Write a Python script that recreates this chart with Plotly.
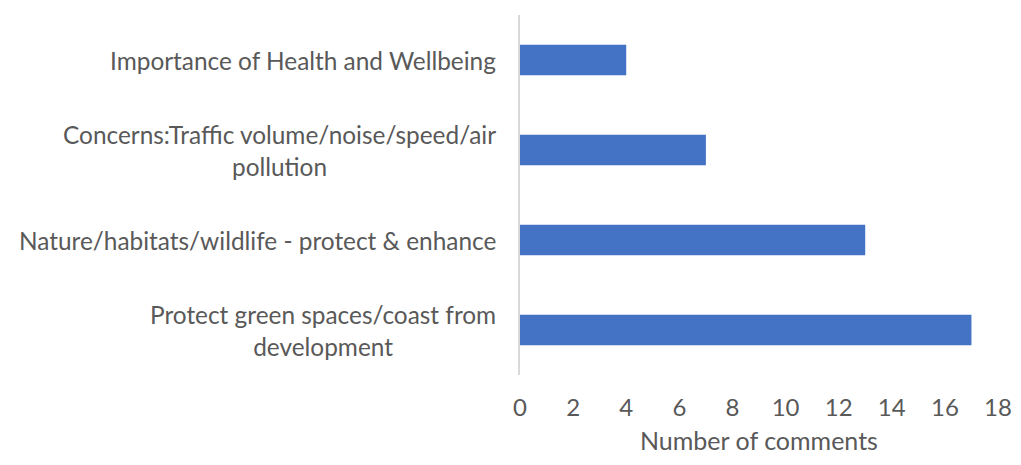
import plotly.graph_objects as go

# Categories listed bottom-to-top, as plotly draws a categorical y axis
categories = [
    "Protect green spaces/coast from<br>development",
    "Nature/habitats/wildlife - protect & enhance",
    "Concerns:Traffic volume/noise/speed/air<br>pollution",
    "Importance of Health and Wellbeing",
]
comments = [17, 13, 7, 4]
x_ticks = [0, 2, 4, 6, 8, 10, 12, 14, 16, 18]
x_title = "Number of comments"

FONT = "Lato, Open Sans, sans-serif"
TEXT_COLOR = "#595959"

fig = go.Figure()
fig.add_trace(go.Bar(
    y=categories,
    x=comments,
    orientation="h",
    width=0.34,
    marker=dict(color="#4472C4", line=dict(width=0)),
    hovertemplate="%{y}: %{x}<extra></extra>",
))

# Category labels as centred multi-line annotations (Excel-style)
for cat in categories:
    fig.add_annotation(
        x=-0.047, xref="paper", xanchor="right",
        y=cat, yref="y",
        text=cat, align="center", showarrow=False,
        font=dict(size=24.4, family=FONT, color=TEXT_COLOR),
    )

# Axis title as an annotation, sitting on the bottom edge of the figure
fig.add_annotation(
    x=0.5, xref="paper", xanchor="center",
    y=-0.224, yref="paper", yanchor="bottom",
    text=x_title, showarrow=False, borderpad=0,
    font=dict(size=25, family=FONT, color=TEXT_COLOR),
)

# page body has an 8px margin, so the figure must fit inside 1005x449
fig.update_layout(
    width=1005,
    height=449,
    margin=dict(l=512, r=15, t=7, b=82),
    plot_bgcolor="white",
    paper_bgcolor="white",
    font=dict(family=FONT, color=TEXT_COLOR, size=24),
    showlegend=False,
)

fig.update_xaxes(
    range=[0, 18],
    tickvals=x_ticks,
    showgrid=False,
    zeroline=False,
    showline=False,
    ticks="outside",
    ticklen=11,
    tickcolor="rgba(0,0,0,0)",
    tickfont=dict(size=24),
    automargin=False,
)
fig.update_yaxes(
    showticklabels=False,
    showgrid=False,
    zeroline=False,
    showline=True,
    linecolor="#D9D9D9",
    linewidth=2,
    automargin=False,
)

fig.write_html("out.html")
